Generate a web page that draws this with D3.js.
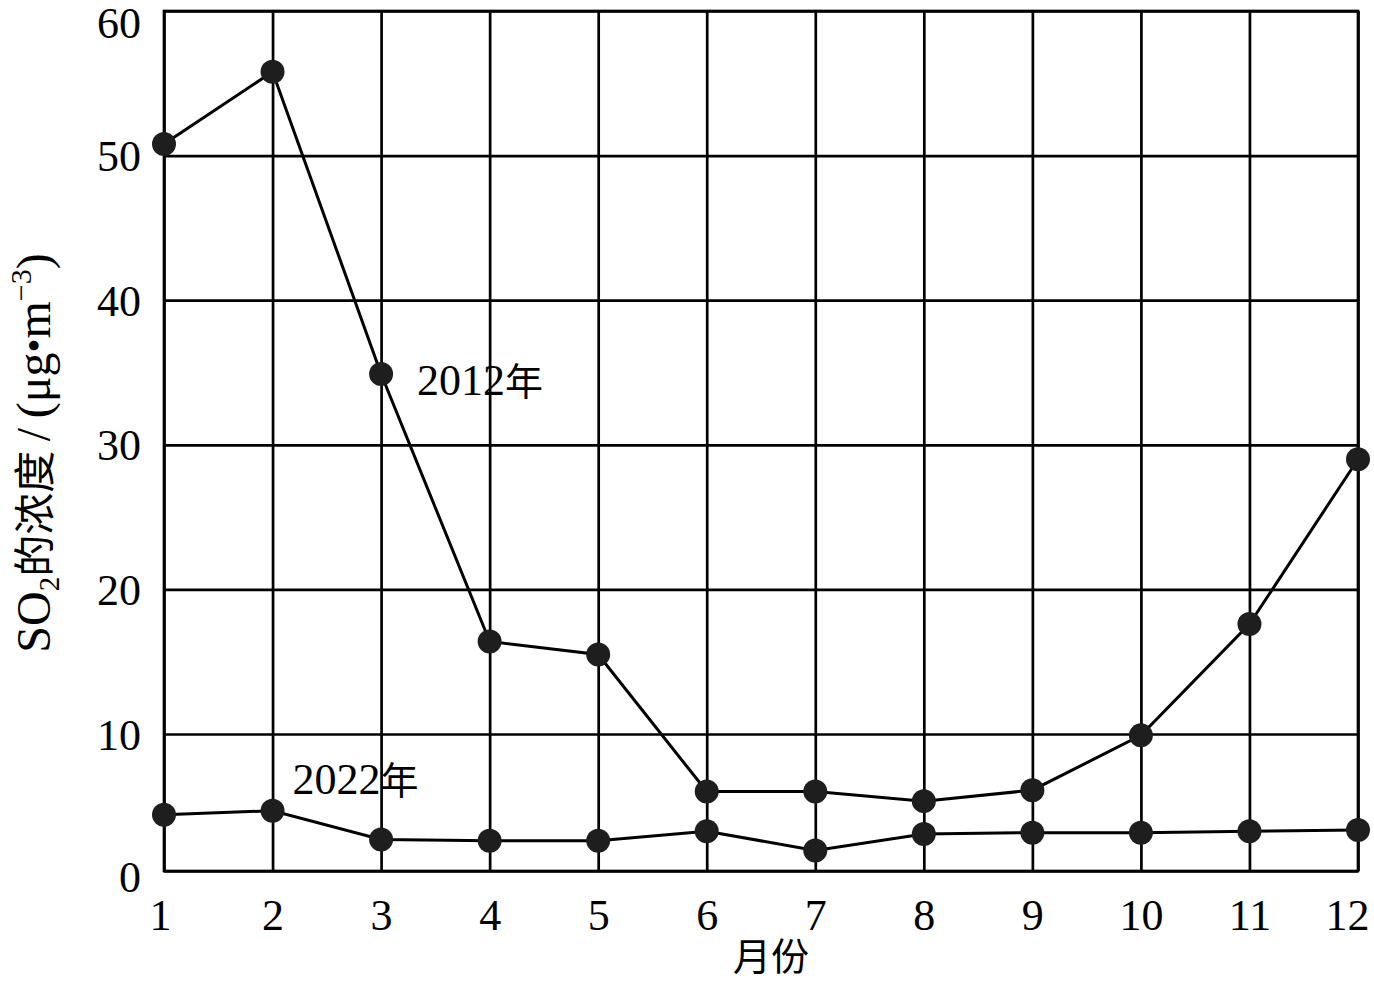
<!DOCTYPE html>
<html><head><meta charset="utf-8">
<script src="https://cdn.jsdelivr.net/npm/d3@7"></script>
<style>
html,body{margin:0;padding:0;background:#fff;}
svg{display:block;}
text{font-family:"Liberation Serif","Times New Roman","Noto Sans CJK SC",serif;fill:#000;}
.cjk{font-family:"Noto Sans CJK SC","Noto Sans CJK JP",sans-serif;}
</style>
</head><body>
<script>
const months = [1,2,3,4,5,6,7,8,9,10,11,12];
const so2_2012 = [50.8,55.8,34.9,16.4,15.5,5.8,5.8,5.1,5.9,9.9,17.6,29.0];
const so2_2022 = [4.1,4.4,2.3,2.2,2.2,2.9,1.5,2.7,2.8,2.8,2.9,3.0];
const yTicks = [0,10,20,30,40,50,60];
const seriesLabels = ["2012", "2022"];
const xTitle = "月份";

const W = 1374, H = 982;
const L = 164, R = 1358, T = 11, B = 871;

const svg = d3.select("body").append("svg").attr("width", W).attr("height", H);

const x = d3.scaleLinear().domain([1, 12]).range([L, R]);
// reference axis is slightly compressed between 0 and 10
const y = d3.scaleLinear().domain([0, 10, 60]).range([B, 734, T]);

// grid lines
svg.append("g").attr("transform", `translate(0,${B})`)
  .call(d3.axisBottom(x).tickValues(months).tickSize(-(B - T)).tickFormat(""))
  .call(g => g.select(".domain").remove())
  .call(g => g.selectAll("line").attr("stroke", "#000").attr("stroke-width", 2.7));
svg.append("g").attr("transform", `translate(${L},0)`)
  .call(d3.axisLeft(y).tickValues(yTicks).tickSize(-(R - L)).tickFormat(""))
  .call(g => g.select(".domain").remove())
  .call(g => g.selectAll("line").attr("stroke", "#000").attr("stroke-width", 2.7));

// frame
svg.append("rect").attr("x", L).attr("y", T).attr("width", R - L).attr("height", B - T)
  .attr("fill", "none").attr("stroke", "#000").attr("stroke-width", 2.7);

// tick labels
const xa = svg.append("g").attr("transform", `translate(0,${B})`)
  .call(d3.axisBottom(x).tickValues(months).tickSize(0).tickPadding(0).tickFormat(d3.format("d")));
xa.select(".domain").remove();
xa.selectAll("text").attr("font-size", 44).attr("font-family", "Liberation Serif")
  .attr("dy", null).attr("y", 59)
  .attr("dx", d => d === 12 ? -11 : (d === 1 ? -4 : 0));

const ya = svg.append("g").attr("transform", `translate(${L},0)`)
  .call(d3.axisLeft(y).tickValues(yTicks).tickSize(0).tickPadding(0).tickFormat(d3.format("d")));
ya.select(".domain").remove();
ya.selectAll("text").attr("font-size", 44).attr("font-family", "Liberation Serif")
  .attr("x", -23).attr("dy", null).attr("y", d => d === 60 ? 26 : (d === 0 ? 20 : 15));

// series
const line = d3.line().x((d, i) => x(months[i])).y(d => y(d));
[so2_2012, so2_2022].forEach(s => {
  svg.append("path").datum(s).attr("d", line)
    .attr("fill", "none").attr("stroke", "#000").attr("stroke-width", 3);
  svg.append("g").selectAll("circle").data(s).join("circle")
    .attr("cx", (d, i) => x(months[i])).attr("cy", d => y(d)).attr("r", 12)
    .attr("fill", "#1e1e1e");
});

// series labels
function seriesLabel(px, py, yr) {
  const t = svg.append("text").attr("x", px).attr("y", py).attr("font-size", 44);
  t.append("tspan").attr("font-family", "Liberation Serif").text(yr);
  t.append("tspan").attr("class", "cjk").attr("font-size", 38).text("年");
}
seriesLabel(x(3) + 36, y(so2_2012[2]) + 21, seriesLabels[0]);
seriesLabel(x(2) + 20, y(so2_2022[1]) - 17, seriesLabels[1]);

// x title
svg.append("text").attr("class", "cjk").attr("x", 771).attr("y", 970)
  .attr("text-anchor", "middle").attr("font-size", 38).text(xTitle);

// y title
const yt = svg.append("text").attr("transform", "translate(50,453) rotate(-90)")
  .attr("text-anchor", "middle").attr("font-size", 48);
yt.append("tspan").attr("font-family", "Liberation Serif").text("SO");
yt.append("tspan").attr("font-family", "Liberation Serif").attr("font-size", 29).attr("dy", 9).text("2");
yt.append("tspan").attr("class", "cjk").attr("font-size", 42).attr("dy", -9).text("的浓度");
yt.append("tspan").attr("font-family", "Liberation Serif").text("\u2009/\u2009(μg");
yt.append("tspan").attr("font-family", "Liberation Serif").attr("font-size", 40).attr("dy", -2).text("•");
yt.append("tspan").attr("font-family", "Liberation Serif").attr("dy", 2).text("m");
yt.append("tspan").attr("font-family", "Liberation Serif").attr("font-size", 30).attr("dy", -19).text("−3");
yt.append("tspan").attr("font-family", "Liberation Serif").attr("dy", 19).text(")");
</script>
</body></html>
